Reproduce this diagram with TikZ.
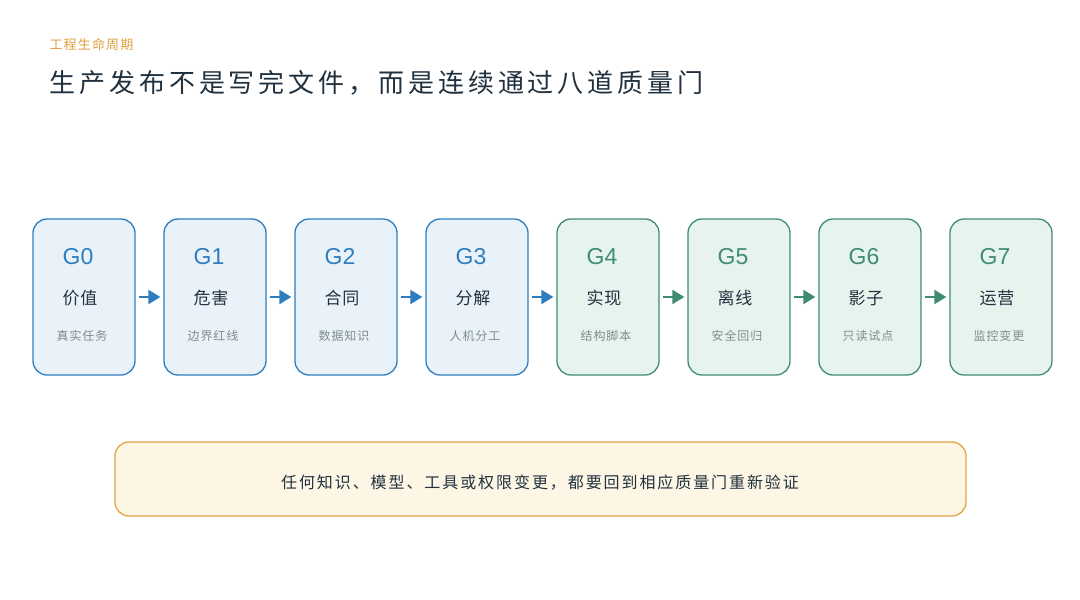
\documentclass[tikz,border=0pt]{standalone}
\usepackage{fontspec}
\setmainfont{Noto Sans CJK SC}
\newfontfamily\latinsans{Liberation Sans}
\usetikzlibrary{arrows.meta}
\definecolor{bluebd}{HTML}{2E7EBF}
\definecolor{bluefill}{HTML}{EAF2F9}
\definecolor{greenbd}{HTML}{3F8D70}
\definecolor{greenfill}{HTML}{E7F4EE}
\definecolor{darktext}{HTML}{22313F}
\definecolor{graytext}{HTML}{7F8C8D}
\definecolor{orangetx}{HTML}{E0A040}
\definecolor{orangebd}{HTML}{E2A445}
\definecolor{creamfill}{HTML}{FDF6E5}
\tikzset{
  gatebox/.style={draw=#1bd, fill=#1fill, line width=1.3pt, rounded corners=14pt, minimum width=102pt, minimum height=156pt, inner sep=0pt},
  gid/.style={text=#1bd, font=\latinsans\fontsize{23}{23}\selectfont, anchor=center},
  gname/.style={text=darktext, font=\fontsize{17}{17}\selectfont\addfontfeatures{LetterSpace=4}, anchor=center},
  gsub/.style={text=graytext, font=\fontsize{12}{12}\selectfont\addfontfeatures{LetterSpace=8}, anchor=center},
  flow/.style={draw=#1bd, line width=2.2pt, -{Triangle[length=12pt,width=14pt]}, shorten >=3pt, shorten <=3pt},
}
\begin{document}
\begin{tikzpicture}[x=1pt,y=-1pt]
\useasboundingbox[fill=white] (0,0) rectangle (1080,600);
\node[anchor=west, text=orangetx, font=\fontsize{13}{13}\selectfont\addfontfeatures{LetterSpace=9}] (kicker) at (46,45) {工程生命周期};
\node[anchor=west, text=darktext, font=\fontsize{26}{26}\selectfont\addfontfeatures{LetterSpace=15}] (title) at (46,83) {生产发布不是写完文件，而是连续通过八道质量门};
\foreach \i/\nm/\sb/\c in {0/价值/真实任务/blue,1/危害/边界红线/blue,2/合同/数据知识/blue,3/分解/人机分工/blue,4/实现/结构脚本/green,5/离线/安全回归/green,6/影子/只读试点/green,7/运营/监控变更/green}{
  \pgfmathsetmacro\cx{84+131*\i}
  \node[gatebox=\c] (b\i) at (\cx,297) {};
  \node[gid=\c] (g\i) at (\cx-6,257) {G\i};
  \node[gname] (n\i) at (\cx-4,298) {\nm};
  \node[gsub] (s\i) at (\cx-2,336) {\sb};
}
\foreach \i/\j/\c in {0/1/blue,1/2/blue,2/3/blue,3/4/blue,4/5/green,5/6/green,6/7/green}{
  \draw[flow=\c] (b\i.east) -- (b\j.west);
}
\node[draw=orangebd, fill=creamfill, line width=1.3pt, rounded corners=14pt, minimum width=851pt, minimum height=74pt] (note) at (540.5,479) {};
\node[text=darktext, font=\fontsize{16}{16}\selectfont\addfontfeatures{LetterSpace=12}] (notetext) at (540,483) {任何知识、模型、工具或权限变更，都要回到相应质量门重新验证};
\end{tikzpicture}
\end{document}
